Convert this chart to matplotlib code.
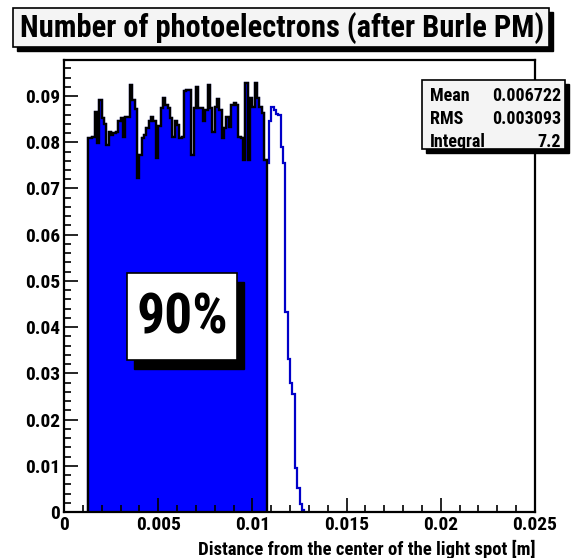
import numpy as np
import matplotlib.pyplot as plt
from matplotlib import font_manager
from matplotlib.patches import Rectangle
from matplotlib.ticker import MultipleLocator, FuncFormatter

# 200 bins over 0-0.025 m; only the populated bins are listed
bin_width = 0.000125
first_edge = 0.00125

# bins inside the 90% radius (filled)
inner_counts = [
    0.0809, 0.0809, 0.0812, 0.0865, 0.0798, 0.0891, 0.0852, 0.0840, 0.0794, 0.0823,
    0.0816, 0.0820, 0.0823, 0.0845, 0.0852, 0.0812, 0.0855, 0.0855, 0.0923, 0.0891,
    0.0873, 0.0722, 0.0773, 0.0809, 0.0816, 0.0830, 0.0845, 0.0855, 0.0845, 0.0765,
    0.0835, 0.0874, 0.0895, 0.0881, 0.0874, 0.0852, 0.0812, 0.0845, 0.0837, 0.0809,
    0.0812, 0.0910, 0.0913, 0.0913, 0.0773, 0.0874, 0.0920, 0.0874, 0.0874, 0.0845,
    0.0870, 0.0924, 0.0874, 0.0823, 0.0877, 0.0893, 0.0870, 0.0810, 0.0830, 0.0855,
    0.0834, 0.0881, 0.0885, 0.0880, 0.0812, 0.0809, 0.0762, 0.0928, 0.0762, 0.0895,
    0.0877, 0.0928, 0.0895, 0.0877, 0.0863, 0.0762,
]
# bins outside it, down to the edge of the spot
outer_counts = [
    0.0755, 0.0845, 0.0877, 0.0870, 0.0862, 0.0858, 0.0790, 0.0755, 0.0432, 0.0332,
    0.0280, 0.0256, 0.0096, 0.0053, 0.0017, 0.0004,
]

stats_labels = ['Mean', 'RMS', 'Integral']
stats_values = ['0.006722', '0.003093', '7.2']

title = 'Number of photoelectrons (after Burle PM)'
xlabel = 'Distance from the center of the light spot [m]'
fraction_label = '90%'


def pick_family(names):
    for name in names:
        try:
            font_manager.findfont(font_manager.FontProperties(family=name),
                                  fallback_to_default=False)
            return name
        except ValueError:
            pass
    return 'DejaVu Sans'


font = pick_family(['Liberation Sans Narrow', 'Arial Narrow', 'Roboto Condensed',
                    'Open Sans Condensed', 'Liberation Sans'])
plt.rcParams['font.family'] = [font, 'DejaVu Sans']

W, H = 573, 558
fig = plt.figure(figsize=(W / 100, H / 100), dpi=100)


def fx(x):
    return x / W


def fy(y):
    return 1 - y / H


def shadow_box(x0, y0, x1, y1, dx, dy, face):
    # box given in pixels from the top-left corner, with a black drop shadow
    fig.add_artist(Rectangle((fx(x0 + dx), fy(y1 + dy)), fx(x1 - x0), (y1 - y0) / H,
                             transform=fig.transFigure, facecolor='black',
                             edgecolor='black', lw=1, zorder=5))
    fig.add_artist(Rectangle((fx(x0), fy(y1)), fx(x1 - x0), (y1 - y0) / H,
                             transform=fig.transFigure, facecolor=face,
                             edgecolor='black', lw=1.2, zorder=6))


ax = fig.add_axes([fx(64), fy(512), fx(535 - 64), (512 - 60) / H])

counts = inner_counts + outer_counts
edges = first_edge + bin_width * np.arange(len(counts) + 1)
inner_edges = edges[:len(inner_counts) + 1]

ax.stairs(counts, edges, baseline=0, color='#0000c8', lw=1.6)
ax.stairs(inner_counts, inner_edges, baseline=0, fill=True, color='#0000ff')
ax.stairs(inner_counts, inner_edges, baseline=0, color='black', lw=1.7)

ax.set_xlim(0, 0.025)
ax.set_ylim(0, 0.0978)
ax.xaxis.set_major_locator(MultipleLocator(0.005))
ax.xaxis.set_minor_locator(MultipleLocator(0.001))
ax.yaxis.set_major_locator(MultipleLocator(0.01))
ax.yaxis.set_minor_locator(MultipleLocator(0.002))
ax.xaxis.set_major_formatter(FuncFormatter(lambda v, p: f'{v:g}'))
ax.yaxis.set_major_formatter(FuncFormatter(lambda v, p: f'{v:g}'))
ax.tick_params(which='both', direction='in', top=False, right=False, width=1.2)
ax.tick_params(which='major', length=10, labelsize=14, pad=3)
ax.tick_params(which='minor', length=5)
for lab in ax.get_xticklabels() + ax.get_yticklabels():
    lab.set_fontweight('bold')
for sp in ax.spines.values():
    sp.set_linewidth(1.6)

ax.set_xlabel(xlabel, loc='right', fontsize=13.5, fontweight='bold', labelpad=4)

# title box
shadow_box(13, 8, 549, 47, 4, 4, '#f4f4f4')
fig.text(fx(282), fy(28), title, ha='center', va='center', fontsize=22,
         fontweight='bold', zorder=7)

# statistics box
shadow_box(422, 80, 565, 149, 4, 4, '#f4f4f4')
for i, (lab, val) in enumerate(zip(stats_labels, stats_values)):
    yy = fy(96 + 23 * i)
    fig.text(fx(430), yy, lab, ha='left', va='center', fontsize=13,
             fontweight='bold', zorder=7)
    fig.text(fx(561), yy, val, ha='right', va='center', fontsize=13,
             fontweight='bold', zorder=7)

# containment label
shadow_box(127, 273, 237, 360, 7, 9, 'white')
fig.text(fx(182), fy(318), fraction_label, ha='center', va='center',
         fontsize=40, fontweight='bold', zorder=7)

fig.savefig('out.png', dpi=100)
